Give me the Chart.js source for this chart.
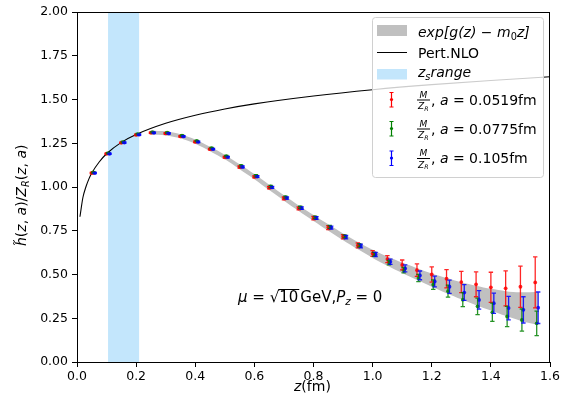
<!DOCTYPE html>
<html>
<head>
<meta charset="utf-8">
<script src="https://cdn.jsdelivr.net/npm/chart.js@4/dist/chart.umd.min.js"></script>
<style>
  html, body { margin: 0; padding: 0; background: #fff; }
  #wrap { width: 564px; height: 402px; }
</style>
</head>
<body>
<div id="wrap"><canvas id="chart"></canvas></div>
<script>
// positions z (fm) of the lattice points
const zPoints = [0.05, 0.10, 0.15, 0.20, 0.25, 0.30, 0.35, 0.40, 0.45, 0.50, 0.55, 0.60, 0.65, 0.70, 0.75, 0.80,
  0.85, 0.90, 0.95, 1.00, 1.05, 1.10, 1.15, 1.20, 1.25, 1.30, 1.35, 1.40, 1.45, 1.50, 1.55];

// a = 0.0519 fm
const redValues = [1.080, 1.190, 1.253, 1.298, 1.310, 1.306, 1.289, 1.258, 1.216, 1.170, 1.114, 1.058, 0.996, 0.935,
  0.878, 0.822, 0.768, 0.716, 0.666, 0.620, 0.588, 0.555, 0.525, 0.500, 0.476, 0.457, 0.444, 0.427, 0.421, 0.430, 0.455];
const redErrors = [0.004, 0.004, 0.004, 0.004, 0.004, 0.004, 0.004, 0.004, 0.004, 0.005, 0.006, 0.006, 0.007, 0.008,
  0.009, 0.010, 0.011, 0.012, 0.014, 0.016, 0.020, 0.028, 0.036, 0.044, 0.052, 0.061, 0.071, 0.086, 0.100, 0.118, 0.146];

// a = 0.0775 fm
const greenValues = [1.083, 1.193, 1.257, 1.302, 1.313, 1.310, 1.294, 1.263, 1.222, 1.176, 1.120, 1.064, 1.003, 0.942,
  0.884, 0.827, 0.772, 0.718, 0.666, 0.615, 0.568, 0.525, 0.480, 0.442, 0.405, 0.356, 0.318, 0.284, 0.260, 0.240, 0.221];
const greenErrors = [0.004, 0.004, 0.004, 0.004, 0.004, 0.004, 0.004, 0.004, 0.004, 0.004, 0.006, 0.006, 0.006, 0.006,
  0.006, 0.007, 0.008, 0.009, 0.010, 0.011, 0.013, 0.016, 0.021, 0.027, 0.034, 0.040, 0.047, 0.052, 0.058, 0.063, 0.070];

// a = 0.105 fm
const blueValues = [1.080, 1.190, 1.254, 1.299, 1.310, 1.306, 1.289, 1.258, 1.217, 1.171, 1.115, 1.060, 0.998, 0.937,
  0.879, 0.823, 0.768, 0.714, 0.663, 0.615, 0.573, 0.535, 0.495, 0.460, 0.430, 0.397, 0.355, 0.336, 0.308, 0.298, 0.310];
const blueErrors = [0.004, 0.004, 0.004, 0.004, 0.004, 0.004, 0.004, 0.004, 0.004, 0.004, 0.005, 0.005, 0.006, 0.006,
  0.007, 0.008, 0.009, 0.010, 0.011, 0.012, 0.015, 0.020, 0.025, 0.031, 0.038, 0.045, 0.053, 0.058, 0.067, 0.075, 0.090];

// exp[g(z) - m0 z] band
const bandZ = [0.25, 0.30, 0.35, 0.40, 0.45, 0.50, 0.55, 0.60, 0.65, 0.70, 0.75, 0.80, 0.85, 0.90, 0.95, 1.00,
  1.05, 1.10, 1.15, 1.20, 1.25, 1.30, 1.35, 1.40, 1.45, 1.50, 1.56];
const bandLow = [1.298, 1.295, 1.278, 1.247, 1.205, 1.158, 1.102, 1.045, 0.983, 0.922, 0.863, 0.806, 0.750, 0.696,
  0.644, 0.595, 0.550, 0.508, 0.468, 0.430, 0.393, 0.358, 0.325, 0.295, 0.264, 0.236, 0.211];
const bandHigh = [1.321, 1.318, 1.301, 1.271, 1.230, 1.185, 1.130, 1.074, 1.013, 0.953, 0.895, 0.840, 0.787, 0.735,
  0.686, 0.642, 0.603, 0.568, 0.536, 0.506, 0.480, 0.456, 0.436, 0.418, 0.405, 0.398, 0.402];

// Pert.NLO
const nloZ = [0.01, 0.02, 0.03, 0.04, 0.05, 0.075, 0.10, 0.15, 0.20, 0.30, 0.40, 0.50, 0.60, 0.80, 1.00, 1.20, 1.40, 1.60];
const nloValues = [0.83, 0.94, 1.00, 1.045, 1.08, 1.143, 1.19, 1.255, 1.30, 1.364, 1.41, 1.446, 1.475, 1.52, 1.556,
  1.585, 1.609, 1.63];

// z_s range
const zsRange = [0.105, 0.21];

const FONT = '"DejaVu Sans", Verdana, sans-serif';
const pts = (xs, ys, dx = 0) => xs.map((x, i) => ({ x: x + dx, y: ys[i] }));

// рисует куски текста: курсив, индексы
function drawRuns(ctx, runs, x, y, size) {
  let cx = x;
  runs.forEach((r) => {
    const s = r.sub ? size * 0.7 : size;
    ctx.font = `${r.i ? "italic " : ""}${s}px ${FONT}`;
    const dy = r.sub ? size * 0.22 : 0;
    ctx.fillText(r.t, cx, y + dy);
    cx += ctx.measureText(r.t).width + (r.gap || 0);
  });
  return cx - x;
}

const zsPlugin = {
  id: "zsRange",
  beforeDatasetsDraw(chart) {
    const { ctx, chartArea, scales: { x } } = chart;
    const x0 = x.getPixelForValue(zsRange[0]);
    const x1 = x.getPixelForValue(zsRange[1]);
    ctx.save();
    ctx.fillStyle = "rgba(135, 206, 250, 0.5)";
    ctx.fillRect(x0, chartArea.top, x1 - x0, chartArea.bottom - chartArea.top);
    ctx.restore();
  },
};

const errorBarPlugin = {
  id: "errorBars",
  afterDatasetsDraw(chart) {
    const { ctx, scales: { x, y } } = chart;
    chart.data.datasets.forEach((ds) => {
      if (!ds.errors) return;
      ctx.save();
      ctx.strokeStyle = ds.errColor;
      ctx.lineWidth = 1.3;
      ds.data.forEach((p, j) => {
        const px = x.getPixelForValue(p.x);
        const top = y.getPixelForValue(p.y + ds.errors[j]);
        const bot = y.getPixelForValue(p.y - ds.errors[j]);
        ctx.beginPath();
        ctx.moveTo(px, top);
        ctx.lineTo(px, bot);
        ctx.moveTo(px - 2.2, top);
        ctx.lineTo(px + 2.2, top);
        ctx.moveTo(px - 2.2, bot);
        ctx.lineTo(px + 2.2, bot);
        ctx.stroke();
      });
      ctx.restore();
    });
  },
};

const decorPlugin = {
  id: "decor",
  afterDraw(chart) {
    const { ctx, chartArea: a } = chart;
    ctx.save();
    // рамка вокруг области графика
    ctx.strokeStyle = "#000";
    ctx.lineWidth = 1;
    ctx.strokeRect(a.left + 0.5, a.top + 0.5, a.right - a.left - 1, a.bottom - a.top);

    ctx.fillStyle = "#000";
    ctx.textBaseline = "alphabetic";
    ctx.textAlign = "left";

    // подпись оси y
    ctx.save();
    ctx.translate(26, 246);
    ctx.rotate(-Math.PI / 2);
    drawRuns(ctx, [
      { t: "h\u0303", i: 1 }, { t: "(" }, { t: "z", i: 1 }, { t: ", " }, { t: "a", i: 1 }, { t: ")/" },
      { t: "Z", i: 1 }, { t: "R", i: 1, sub: 1 }, { t: "(" }, { t: "z", i: 1 }, { t: ", " }, { t: "a", i: 1 }, { t: ")" },
    ], 0, 0, 14);
    ctx.restore();

    // подпись оси x
    drawRuns(ctx, [{ t: "z", i: 1 }, { t: "(fm)" }], 294, 391, 14);

    // μ = √10 GeV, P_z = 0
    const base = 302;
    let cx = 238;
    cx += drawRuns(ctx, [{ t: "\u03bc", i: 1 }, { t: " = " }], cx, base, 15);
    ctx.font = `15px ${FONT}`;
    ctx.fillText("\u221a", cx, base);
    cx += ctx.measureText("\u221a").width;
    const w10 = ctx.measureText("10").width;
    ctx.fillText("10", cx, base);
    ctx.beginPath();
    ctx.moveTo(cx - 1, base - 12.5);
    ctx.lineTo(cx + w10 + 1, base - 12.5);
    ctx.stroke();
    cx += w10 + 2;
    drawRuns(ctx, [{ t: "GeV," }, { t: "P", i: 1 }, { t: "z", i: 1, sub: 1 }, { t: " = 0" }], cx, base, 15);

    // легенда
    const lx = 372, ly = 17, lw = 171, lh = 160;
    ctx.fillStyle = "rgba(255,255,255,0.8)";
    ctx.strokeStyle = "#d0d0d0";
    ctx.beginPath();
    ctx.roundRect(lx + 0.5, ly + 0.5, lw, lh, 3);
    ctx.fill();
    ctx.stroke();

    const tx = 418;
    ctx.fillStyle = "#c0c0c0";
    ctx.fillRect(377, 25, 30, 11);
    ctx.fillStyle = "#000";
    drawRuns(ctx, [{ t: "exp[g(z)", i: 1 }, { t: " \u2212 " }, { t: "m", i: 1 }, { t: "0", sub: 1 }, { t: "z]", i: 1 }],
      tx, 36.5, 14);

    ctx.strokeStyle = "#000";
    ctx.beginPath();
    ctx.moveTo(377, 52.5);
    ctx.lineTo(407, 52.5);
    ctx.stroke();
    drawRuns(ctx, [{ t: "Pert.NLO" }], tx, 57.5, 14);

    ctx.fillStyle = "rgba(135, 206, 250, 0.5)";
    ctx.fillRect(377, 69, 30, 10.5);
    ctx.fillStyle = "#000";
    drawRuns(ctx, [{ t: "z", i: 1 }, { t: "s", i: 1, sub: 1 }, { t: "range", i: 1 }], tx, 77, 14);

    const rows = [
      { c: 99.5, color: "#ff0000", a: "0.0519fm" },
      { c: 128.5, color: "#008000", a: "0.0775fm" },
      { c: 158, color: "#0000ff", a: "0.105fm" },
    ];
    rows.forEach((r) => {
      ctx.strokeStyle = r.color;
      ctx.fillStyle = r.color;
      ctx.lineWidth = 1.2;
      const ex = 391.5;
      ctx.beginPath();
      ctx.moveTo(ex, r.c - 7);
      ctx.lineTo(ex, r.c + 7.5);
      ctx.moveTo(ex - 2, r.c - 7);
      ctx.lineTo(ex + 2, r.c - 7);
      ctx.moveTo(ex - 2, r.c + 7.5);
      ctx.lineTo(ex + 2, r.c + 7.5);
      ctx.stroke();
      ctx.beginPath();
      ctx.arc(ex, r.c, 1.6, 0, Math.PI * 2);
      ctx.fill();

      // дробь M / Z_R
      ctx.lineWidth = 1;
      ctx.fillStyle = "#000";
      ctx.strokeStyle = "#000";
      ctx.font = `italic 9px ${FONT}`;
      ctx.textAlign = "center";
      ctx.fillText("M", 423.5, r.c - 2);
      ctx.textAlign = "left";
      ctx.beginPath();
      ctx.moveTo(417, r.c + 0.5);
      ctx.lineTo(430, r.c + 0.5);
      ctx.stroke();
      drawRuns(ctx, [{ t: "Z", i: 1 }, { t: "R", i: 1, sub: 1 }], 418, r.c + 9.5, 9);
      drawRuns(ctx, [{ t: ", " }, { t: "a", i: 1 }, { t: " = " + r.a }], 431, r.c + 5, 14);
    });

    ctx.restore();
  },
};

const pointSet = (values, errors, color, dx) => ({
  type: "scatter",
  data: pts(zPoints, values, dx),
  errors: errors,
  errColor: color,
  backgroundColor: color,
  borderColor: color,
  pointRadius: 1.9,
  pointBorderWidth: 0,
  order: 1,
});

new Chart(document.getElementById("chart"), {
  type: "scatter",
  data: {
    datasets: [
      {
        type: "line",
        data: pts(bandZ, bandLow),
        borderWidth: 0,
        pointRadius: 0,
        fill: false,
        tension: 0.3,
        order: 5,
      },
      {
        type: "line",
        data: pts(bandZ, bandHigh),
        borderWidth: 0,
        borderColor: "rgba(0,0,0,0)",
        backgroundColor: "#c0c0c0",
        pointRadius: 0,
        fill: 0,
        tension: 0.3,
        order: 4,
      },
      {
        type: "line",
        data: pts(nloZ, nloValues),
        borderColor: "#000",
        borderWidth: 1.1,
        pointRadius: 0,
        fill: false,
        cubicInterpolationMode: "monotone",
        order: 3,
      },
      pointSet(redValues, redErrors, "rgba(255,0,0,0.85)", 0),
      pointSet(greenValues, greenErrors, "rgba(0,128,0,0.85)", 0.005),
      pointSet(blueValues, blueErrors, "rgba(0,0,255,0.85)", 0.01),
    ],
  },
  options: {
    responsive: true,
    maintainAspectRatio: false,
    animation: false,
    layout: { padding: { top: 12, right: 14, left: 0, bottom: 0 } },
    plugins: {
      legend: { display: false },
      tooltip: { enabled: false },
    },
    scales: {
      x: {
        type: "linear",
        min: 0,
        max: 1.6,
        afterFit(scale) { scale.height = 40; },
        ticks: {
          stepSize: 0.2,
          padding: 2,
          color: "#000",
          font: { family: FONT, size: 12.5 },
          callback: (v) => v.toFixed(1),
        },
        grid: { drawOnChartArea: false, drawTicks: true, tickLength: 5, color: "#000" },
        border: { display: true, color: "#000" },
      },
      y: {
        type: "linear",
        min: 0,
        max: 2,
        afterFit(scale) { scale.width = 77; },
        ticks: {
          stepSize: 0.25,
          padding: 4,
          color: "#000",
          font: { family: FONT, size: 12.5 },
          callback: (v) => v.toFixed(2),
        },
        grid: { drawOnChartArea: false, drawTicks: true, tickLength: 5, color: "#000" },
        border: { display: true, color: "#000" },
      },
    },
  },
  plugins: [zsPlugin, errorBarPlugin, decorPlugin],
});
</script>
</body>
</html>
